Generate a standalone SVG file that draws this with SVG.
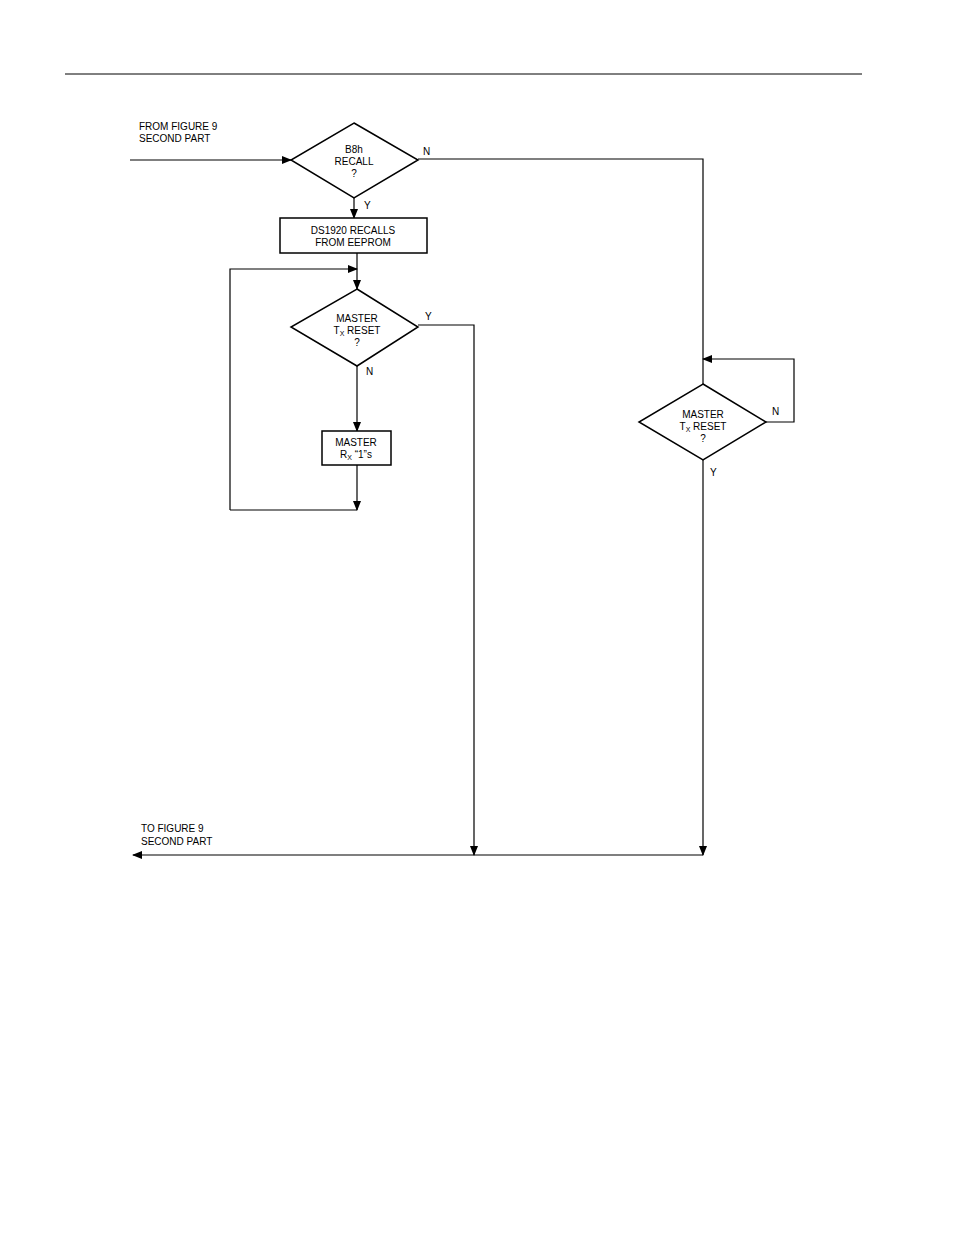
<svg xmlns="http://www.w3.org/2000/svg" width="954" height="1235" viewBox="0 0 954 1235">
<style>
text{font-family:"Liberation Sans",Arial,sans-serif;font-size:10px;fill:#000}
.c{text-anchor:middle}
.s{fill:#fff;stroke:#000;stroke-width:1.5}
.l{fill:none;stroke:#000;stroke-width:1.2}
</style>
<defs><marker id="a" markerWidth="10" markerHeight="8" refX="9" refY="4" orient="auto" markerUnits="userSpaceOnUse"><path d="M0,0 L10,4 L0,8 z" fill="#000"/></marker></defs>
<rect width="954" height="1235" fill="#fff"/>
<line x1="65" y1="74" x2="862" y2="74" stroke="#000" stroke-width="1"/>
<text x="139" y="130">FROM FIGURE 9</text><text x="139" y="142">SECOND PART</text>
<text x="141" y="832">TO FIGURE 9</text><text x="141" y="845">SECOND PART</text>
<g id="connectors">
<path class="l" d="M130,160 H291" marker-end="url(#a)"/>
<path class="l" d="M418,159 H703 V384"/>
<path class="l" d="M354,198 V218" marker-end="url(#a)"/>
<path class="l" d="M357,253 V289" marker-end="url(#a)"/>
<path class="l" d="M230,510 V269 H357" marker-end="url(#a)"/>
<path class="l" d="M357,366 V431" marker-end="url(#a)"/>
<path class="l" d="M357,465 V510" marker-end="url(#a)"/>
<path class="l" d="M357,510 H230"/>
<path class="l" d="M418,325 H474 V855" marker-end="url(#a)"/>
<path class="l" d="M766,422 H794 V359 H703" marker-end="url(#a)"/>
<path class="l" d="M703,460 V855" marker-end="url(#a)"/>
<path class="l" d="M703,855 H133" marker-end="url(#a)"/>
<text x="423" y="155">N</text><text x="364" y="209">Y</text>
<text x="425" y="320">Y</text><text x="366" y="375">N</text>
<text x="772" y="415">N</text><text x="710" y="476">Y</text>
</g>
<g id="d1"><polygon class="s" points="354,123 418,160 354,198 291,160"/>
<text class="c" x="354" y="153">B8h</text><text class="c" x="354" y="165">RECALL</text><text class="c" x="354" y="177">?</text></g>
<g id="b1"><rect class="s" x="280" y="218" width="147" height="35"/>
<text class="c" x="353" y="234">DS1920 RECALLS</text><text class="c" x="353" y="246">FROM EEPROM</text></g>
<g id="d2"><polygon class="s" points="357,289 418,327 357,366 291,327"/>
<text class="c" x="357" y="322">MASTER</text><text class="c" x="357" y="334">T<tspan font-size="7" dy="2">X</tspan><tspan dy="-2"> RESET</tspan></text><text class="c" x="357" y="346">?</text></g>
<g id="b2"><rect class="s" x="322" y="431" width="69" height="34"/>
<text class="c" x="356" y="446">MASTER</text><text class="c" x="356" y="458">R<tspan font-size="7" dy="2">X</tspan><tspan dy="-2"> “1”s</tspan></text></g>
<g id="d3"><polygon class="s" points="703,384 766,422 703,460 639,422"/>
<text class="c" x="703" y="418">MASTER</text><text class="c" x="703" y="430">T<tspan font-size="7" dy="2">X</tspan><tspan dy="-2"> RESET</tspan></text><text class="c" x="703" y="442">?</text></g>
</svg>
